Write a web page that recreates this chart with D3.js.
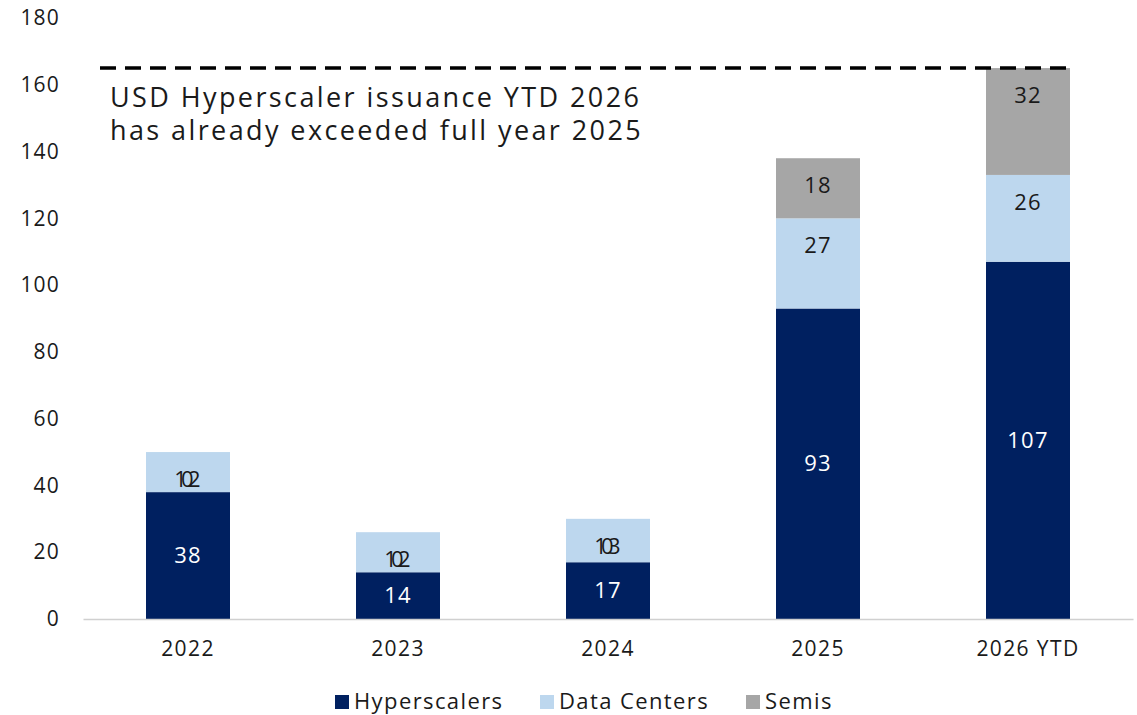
<!DOCTYPE html>
<html><head><meta charset="utf-8">
<script src="https://cdn.jsdelivr.net/npm/d3@7"></script>
<style>body{margin:0;background:#fff;} svg{display:block;font-family:"Open Sans",sans-serif;}</style>
</head><body><svg id="c" width="1137" height="715"></svg>
<script>
const categories = ["2022","2023","2024","2025","2026 YTD"];
const hyperscalers = [38,14,17,93,107];
const dataCenters = [12,12,13,27,26];
const semis = [0,0,0,18,32];
const seriesNames = ["Hyperscalers","Data Centers","Semis"];
const colors = ["#002060","#BDD7EE","#A6A6A6"];
const labelColors = ["#ffffff","#1a1a1a","#1a1a1a"];
const yTicks = [0,20,40,60,80,100,120,140,160,180];
const annotation = ["USD Hyperscaler issuance YTD 2026","has already exceeded full year 2025"];
const referenceLevel = 165;

const svg = d3.select("#c");
const x = d3.scaleBand().domain(categories).range([83,1133]).paddingInner(0.6).paddingOuter(0.3);
const y = d3.scaleLinear().domain([0,180]).range([619,18]);

const rows = categories.map((c,i)=>({cat:c, Hyperscalers:hyperscalers[i], "Data Centers":dataCenters[i], Semis:semis[i]}));
const stacked = d3.stack().keys(seriesNames)(rows);

// y axis labels
const ya = svg.append("g").attr("transform","translate(60,0)")
  .call(d3.axisLeft(y).tickValues(yTicks).tickSize(0).tickPadding(0));
ya.select(".domain").remove();
ya.selectAll("text").attr("font-size",21).attr("letter-spacing",1.2).attr("fill","#1a1a1a").attr("font-family","Open Sans");

// bars
stacked.forEach((s,si)=>{
  const g = svg.append("g");
  g.selectAll("rect").data(s).join("rect")
    .attr("x",d=>x(d.data.cat)).attr("width",x.bandwidth())
    .attr("y",d=>y(d[1])).attr("height",d=>y(d[0])-y(d[1]))
    .attr("fill",colors[si]);
});
// labels: first series centred, upper series at inside end
stacked.forEach((s,si)=>{
  const g = svg.append("g");
  g.selectAll("text").data(s).join("text")
    .attr("x",d=>x(d.data.cat)+x.bandwidth()/2)
    .attr("y",d=> si===0 ? y((d[0]+d[1])/2) : y(d[1])+27)
    .attr("dy","0.35em").attr("text-anchor","middle")
    .attr("font-size",22).attr("letter-spacing",1.2).attr("fill",labelColors[si])
    .text(d=>d[1]-d[0]);
});

// x axis
const xa = svg.append("g").attr("transform","translate(0,619)")
  .call(d3.axisBottom(x).tickSize(0).tickPadding(22));
xa.select(".domain").attr("stroke","#d0d0d0").attr("stroke-width",1.5);
xa.selectAll("text").attr("font-size",21).attr("letter-spacing",1.4).attr("fill","#1a1a1a").attr("font-family","Open Sans");

// reference dashed line
svg.append("line").attr("x1",100).attr("x2",x(categories[4])+x.bandwidth())
  .attr("y1",y(referenceLevel)).attr("y2",y(referenceLevel))
  .attr("stroke","#000").attr("stroke-width",3.5).attr("stroke-dasharray","16,9");

// annotation
svg.append("text").attr("x",110).attr("y",107).attr("font-size",27).attr("letter-spacing",2.4).attr("fill","#1a1a1a")
  .selectAll("tspan").data(annotation).join("tspan")
  .attr("x",110).attr("dy",(d,i)=>i?33:0).text(d=>d);

// legend
const legend = svg.append("g").attr("transform","translate(0,709)");
const legX = [335,540,746];
seriesNames.forEach((n,i)=>{
  legend.append("rect").attr("x",legX[i]).attr("y",-14).attr("width",14).attr("height",14).attr("fill",colors[i]);
  legend.append("text").attr("x",legX[i]+19).attr("y",0).attr("font-size",22).attr("letter-spacing",1.4).attr("fill","#1a1a1a").text(n);
});
</script></body></html>
